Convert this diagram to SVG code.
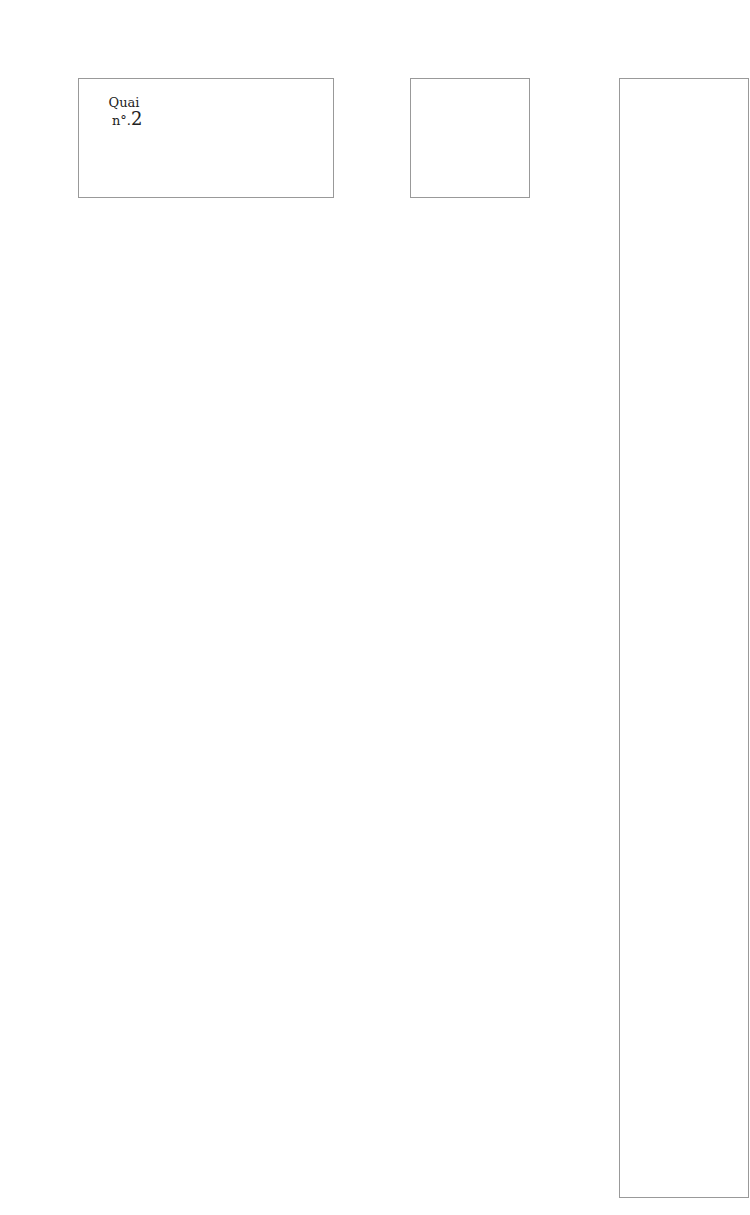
<svg xmlns="http://www.w3.org/2000/svg" width="750" height="1215" viewBox="0 0 750 1215">
<style>.b{fill:#fff;stroke:#999;stroke-width:1}.t{font-family:"DejaVu Serif",serif;fill:#222}</style>
<rect width="750" height="1215" fill="#fff"/>
<g id="quai"><rect class="b" x="78.5" y="78.5" width="255" height="119"/>
<text class="t" x="124" y="107" font-size="13" text-anchor="middle">Quai</text>
<text class="t" x="112" y="125" font-size="13">n°.<tspan font-size="18">2</tspan></text></g>
<g id="box2"><rect class="b" x="410.5" y="78.5" width="119" height="119"/></g>
<g id="box3"><rect class="b" x="619.5" y="78.5" width="129" height="1119"/></g>
<g id="connectors"/>
</svg>
